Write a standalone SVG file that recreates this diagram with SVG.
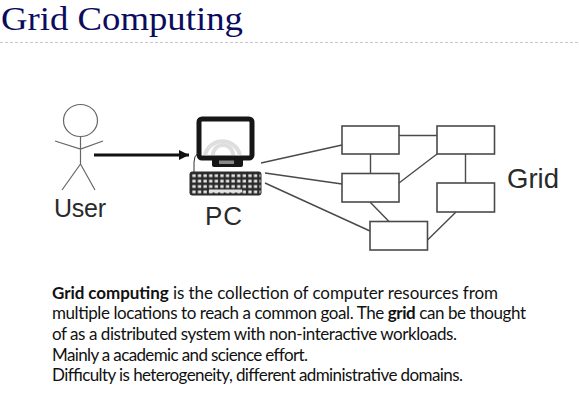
<svg xmlns="http://www.w3.org/2000/svg" width="579" height="407" viewBox="0 0 579 407">
<style>
.title{font:33.500px "Liberation Serif",serif;fill:#0c0c5e}
.lab{font:26px "Liberation Sans",Arial,sans-serif;fill:#2a2a2a}
.body{font:17px Lato,"Open Sans",sans-serif;fill:#111}
.bold{font-weight:700}
.box{fill:#fff;stroke:#4a4a4a;stroke-width:1.6}
.conn{stroke:#4a4a4a;stroke-width:1.4;fill:none}
.fig{stroke:#666;stroke-width:1.2;fill:none}
</style>
<defs>
<marker id="ah" markerUnits="userSpaceOnUse" markerWidth="11" markerHeight="11" refX="10" refY="5.500" orient="auto"><path d="M0 0.500L10 5.500L0 10.500Z" fill="#111"/></marker>
<pattern id="keys" width="5.600" height="5.400" patternUnits="userSpaceOnUse" x="191" y="173"><rect width="5.600" height="5.400" fill="#2a2a2a"/><rect x="1.300" y="1.300" width="3.300" height="2.800" fill="#e4e4e4"/></pattern>
</defs>
<rect width="579" height="407" fill="#fff"/>
<g id="title">
<text class="title" transform="translate(1 30) scale(1.097 1)" x="0" y="0">Grid Computing</text>
<line x1="0" y1="42.500" x2="579" y2="42.500" stroke="#c4cad2" stroke-width="1" stroke-dasharray="3 2"/>
</g>
<g id="connectors">
<line x1="94" y1="155" x2="189" y2="155" stroke="#111" stroke-width="3" marker-end="url(#ah)"/>
<path class="conn" d="M261 163L342 145M265 173L342 184M265 183L370 231M399 135.500H437M370.500 154V173.500M399 183L437 154M465.500 154V183M370 202L389 221.500M427.500 240L456 212"/>
</g>
<g id="user">
<ellipse class="fig" cx="80.500" cy="120.500" rx="17" ry="16"/>
<path class="fig" d="M80.500 136.500V164M55 141L80.500 149L103 141M62 190L80.500 164L95 190"/>
<text class="lab" style="font-size:25px" x="54" y="217" textLength="52">User</text>
</g>
<g id="pc">
<rect x="199" y="119" width="53" height="39" rx="3" fill="#fff" stroke="#161616" stroke-width="5"/>
<path d="M205 155A18 18 0 0 1 240 155" fill="none" stroke="#dedede" stroke-width="4"/>
<path d="M213 155A10 10 0 0 1 233 155" fill="none" stroke="#dedede" stroke-width="4"/>
<path d="M212 158H243V165Q243 167 241 167H214Q212 167 212 165Z" fill="#161616"/>
<rect x="219" y="160.500" width="15" height="3.500" fill="#888"/>
<path d="M194 172V162Q194 156 198 153" fill="none" stroke="#333" stroke-width="1"/>
<rect x="190" y="172" width="71" height="23" rx="2" fill="url(#keys)" stroke="#2a2a2a" stroke-width="1"/>
<rect x="209" y="189.500" width="33" height="3" fill="#e4e4e4"/>
<text class="lab" x="205" y="225" textLength="37">PC</text>
</g>
<g id="node1"><rect class="box" x="342" y="126" width="57" height="28"/></g>
<g id="node2"><rect class="box" x="437" y="126" width="57.500" height="28"/></g>
<g id="node3"><rect class="box" x="342" y="173.500" width="57" height="28.500"/></g>
<g id="node4"><rect class="box" x="437" y="183" width="57.500" height="29"/></g>
<g id="node5"><rect class="box" x="370" y="221.500" width="57.500" height="28.500"/></g>
<g id="grid-label"><text class="lab" style="font-size:27.500px" x="507" y="188" textLength="52">Grid</text></g>
<g id="description">
<text class="body" x="52" y="298.500" textLength="446"><tspan class="bold">Grid computing</tspan> is the collection of computer resources from</text>
<text class="body" x="52" y="319" textLength="474">multiple locations to reach a common goal. The <tspan class="bold">grid</tspan> can be thought</text>
<text class="body" x="52" y="340" textLength="405">of as a distributed system with non-interactive workloads.</text>
<text class="body" x="52" y="360.500" textLength="256">Mainly a academic and science effort.</text>
<text class="body" x="52" y="381" textLength="411">Difficulty is heterogeneity, different administrative domains.</text>
</g>
</svg>
